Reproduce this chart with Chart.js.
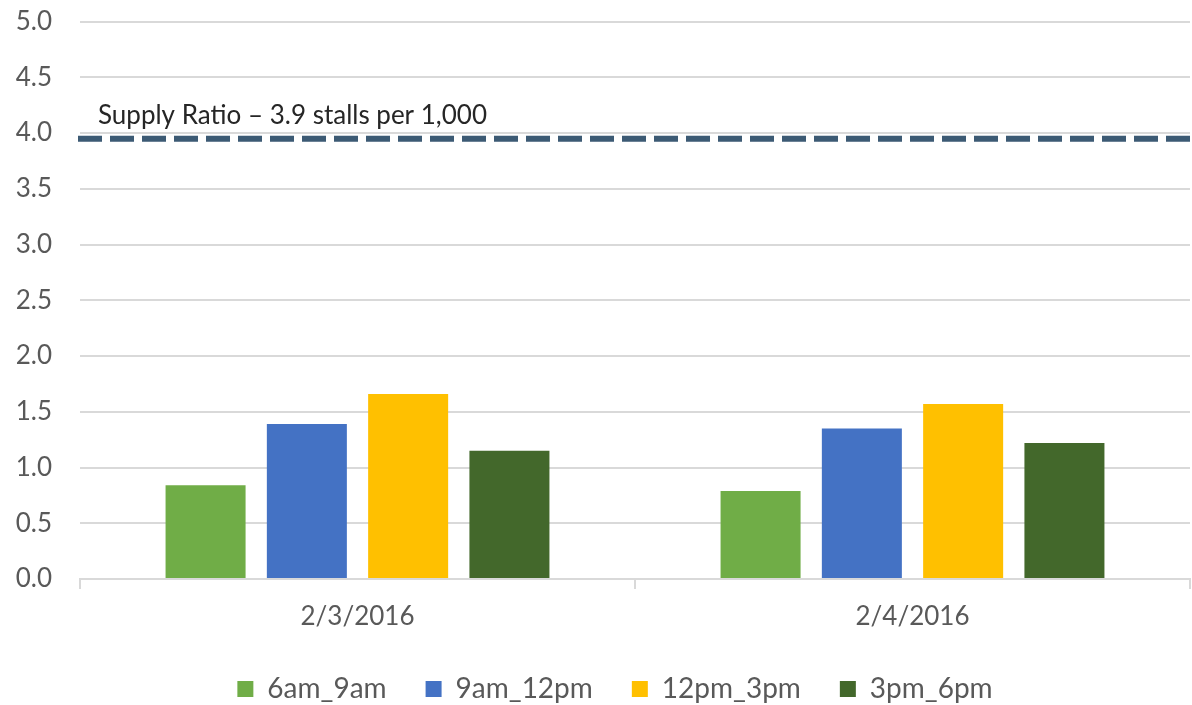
<!DOCTYPE html>
<html>
<head>
<meta charset="utf-8">
<script src="https://cdn.jsdelivr.net/npm/chart.js@4"></script>
<style>
  html, body { margin: 0; padding: 0; background: #fff; }
  #wrap { width: 1192px; height: 705px; }
</style>
</head>
<body>
<div id="wrap"><canvas id="barChart"></canvas></div>
<script>
const dates = ['2/3/2016', '2/4/2016'];
const slots = ['6am_9am', '9am_12pm', '12pm_3pm', '3pm_6pm'];
const slotColors = ['#70AD47', '#4472C4', '#FFC000', '#43682B'];
const ratios6to9 = [0.84, 0.79];
const ratios9to12 = [1.39, 1.35];
const ratios12to3 = [1.66, 1.57];
const ratios3to6 = [1.15, 1.22];
const supplyRatio = 3.95;
const supplyLabel = 'Supply Ratio \u2013 3.9 stalls per 1,000';

const seriesValues = [ratios6to9, ratios9to12, ratios12to3, ratios3to6];

// dashed supply line + its label, drawn through the y scale
const supplyLine = {
    id: 'supplyLine',
    afterLayout(chart) {
        // legend sits centred under the plot area, not the whole canvas
        if (chart.legend) chart.legend.left += 40;
    },
    afterDatasetsDraw(chart) {
        const { ctx, chartArea, scales } = chart;
        const y = scales.y.getPixelForValue(supplyRatio);
        ctx.save();
        ctx.strokeStyle = '#3C5A74';
        ctx.lineWidth = 6;
        ctx.setLineDash([24, 8]);
        ctx.beginPath();
        ctx.moveTo(chartArea.left - 2, y);
        ctx.lineTo(chartArea.right, y);
        ctx.stroke();
        ctx.setLineDash([]);
        ctx.fillStyle = '#262626';
        ctx.font = '26px Lato';
        ctx.textBaseline = 'alphabetic';
        ctx.fillText(supplyLabel, chartArea.left + 18, y - 15);
        ctx.restore();
    }
};

const tickFont = { family: 'Lato', size: 26 };

new Chart(
    document.getElementById('barChart'),
    {
    type: 'bar',
    data: {
        labels: dates,
        datasets: slots.map((slot, i) => ({
            label: slot,
            data: seriesValues[i],
            backgroundColor: slotColors[i],
            borderWidth: 0,
            barPercentage: 0.79,
            categoryPercentage: 0.73
        }))
    },
    options: {
        responsive: true,
        maintainAspectRatio: false,
        animation: false,
        layout: { padding: { top: 0, right: 2, left: 0, bottom: -8 } },
        scales: {
            x: {
                afterFit(scale) { scale.height = 57; },
                grid: {
                    drawOnChartArea: false,
                    color: '#D9D9D9',
                    lineWidth: 2,
                    tickLength: 10
                },
                border: { color: '#D9D9D9', width: 2 },
                ticks: {
                    color: '#595959',
                    font: tickFont,
                    padding: 12
                }
            },
            y: {
                min: 0,
                max: 5,
                afterFit(scale) { scale.width = 80; },
                grid: {
                    color: '#D9D9D9',
                    lineWidth: 2,
                    tickColor: 'rgba(0,0,0,0)',
                    tickLength: 22
                },
                border: { display: false },
                ticks: {
                    stepSize: 0.5,
                    color: '#595959',
                    font: tickFont,
                    padding: 6,
                    callback: v => v.toFixed(1)
                }
            }
        },
        plugins: {
            legend: {
                position: 'bottom',
                labels: {
                    boxWidth: 16,
                    boxHeight: 16,
                    color: '#595959',
                    font: { family: 'Lato', size: 28 },
                    padding: 39
                }
            },
            tooltip: { enabled: false }
        }
    },
    plugins: [supplyLine]
    }
);
</script>
</body>
</html>
